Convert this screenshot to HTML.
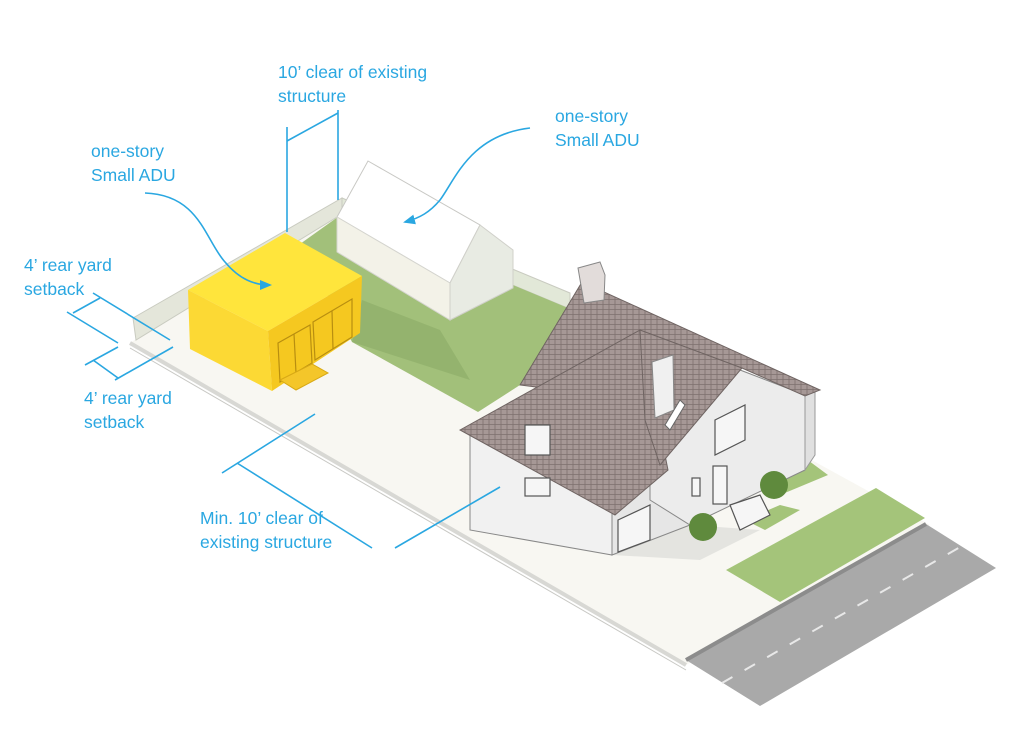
<!DOCTYPE html>
<html><head><meta charset="utf-8"><style>
html,body{margin:0;padding:0;background:#fff;}
svg{display:block}
text{font-family:"Liberation Sans",sans-serif;font-size:17.5px;fill:#2aa7e1}
</style></head><body>
<svg width="1024" height="730" viewBox="0 0 1024 730" xmlns="http://www.w3.org/2000/svg">
<defs>
<pattern id="tile" width="6" height="5" patternUnits="userSpaceOnUse">
<rect width="6" height="5" fill="#a69896"/>
<path d="M0 4.5H6M3 0V5" stroke="#7d706e" stroke-width="0.8"/>
</pattern>
<marker id="ah" markerWidth="12" markerHeight="10" refX="10" refY="5" orient="auto" markerUnits="userSpaceOnUse">
<path d="M0 0L12 5L0 10z" fill="#2aa7e1"/>
</marker>
</defs>
<!-- lot -->
<polygon points="130,343 342,202 930,525 686,665" fill="#f8f7f2"/>
<polyline points="130,343 686,665" stroke="#d8d8d4" stroke-width="4" fill="none"/>
<polyline points="130,348 686,670" stroke="#c8c8c4" stroke-width="1" fill="none"/>
<!-- fences -->
<polygon points="133,318 342,198 342,214 136,340" fill="#e4e6da" stroke="#c9cbc0" stroke-width="1"/>
<polygon points="342,198 570,293 570,309 342,214" fill="#e2e8d8" stroke="#c9cbc0" stroke-width="1"/>
<!-- lawn -->
<polygon points="300,244 342,214 568,308 520,385 478,412 352,342" fill="#a2c07a"/>
<polygon points="352,342 362,300 440,330 470,380" fill="#8fae6a" opacity="0.7"/>
<polygon points="726,570 876,488 925,518 780,602" fill="#a4c47a"/>
<polygon points="745,520 780,505 800,510 765,530" fill="#a4c47a"/>
<polygon points="758,475 805,458 828,475 780,495" fill="#a4c47a"/>
<!-- road -->
<polygon points="686,660 926,524 996,568 760,706" fill="#a9a9a9"/>
<polyline points="686,660 926,524" stroke="#8c8c8c" stroke-width="4"/>
<line x1="722" y1="683" x2="962" y2="546" stroke="#e8e8e8" stroke-width="2" stroke-dasharray="12,14"/>
<!-- yellow ADU -->
<polygon points="188,290 285,233 362,276 268,331" fill="#ffe53c"/>
<polygon points="188,290 268,331 272,391 190,349" fill="#fcd934"/>
<polygon points="268,331 362,276 360,333 272,391" fill="#f5c820"/>
<g stroke="#b88e10" stroke-width="1.2" fill="none">
<polygon points="278,343 310,325 312,363 280,382"/>
<line x1="294" y1="334" x2="296" y2="373"/>
<polygon points="313,322 352,299 352,337 315,360"/>
<line x1="332" y1="311" x2="333" y2="349"/>
</g>
<polygon points="280,380 312,364 328,373 296,390" fill="#f4c62a" stroke="#d8a915"/>
<!-- white ADU -->
<polygon points="337,217 368,161 480,225 450,283" fill="#ffffff" stroke="#c8c8c4"/>
<polygon points="337,217 450,283 450,320 337,252" fill="#f3f2e8" stroke="#d5d5cf"/>
<polygon points="450,283 480,225 513,250 513,288 450,320" fill="#e8ebe3" stroke="#d0d0ca"/>
<!-- house shadow -->
<polygon points="612,555 700,560 760,530 690,525" fill="#e4e4e0"/>
<!-- house walls -->
<polygon points="470,430 470,530 612,555 612,470" fill="#f1f1f1" stroke="#888" stroke-width="1"/>
<polygon points="612,470 612,555 690,525 690,440" fill="#e6e6e6" stroke="#888"/>
<polygon points="650,440 740,370 805,395 805,470 690,525 650,500" fill="#ececec" stroke="#888"/>
<polygon points="805,395 815,392 815,455 805,470" fill="#e0e0e0" stroke="#999"/>
<!-- roofs -->
<polygon points="520,385 582,282 820,390 805,396 742,368 640,400" fill="url(#tile)" stroke="#6f6462"/>
<polygon points="460,430 640,330 668,470 615,515" fill="url(#tile)" stroke="#6f6462"/>
<polygon points="640,330 742,368 660,465 645,420" fill="url(#tile)" stroke="#6f6462"/>
<polygon points="578,268 600,262 605,275 604,300 584,303" fill="#e2dcda" stroke="#888"/>
<polygon points="652,362 673,355 674,410 655,418" fill="#f0f0f0" stroke="#888"/>
<polygon points="665,425 680,400 685,405 670,430" fill="#fff" stroke="#666"/>
<!-- windows -->
<g stroke="#555" fill="#f6f6f6" stroke-width="1.2">
<rect x="525" y="425" width="25" height="30"/>
<rect x="525" y="478" width="25" height="18"/>
<polygon points="715,420 745,405 745,440 715,455"/>
<polygon points="618,520 650,505 650,540 618,552"/>
<rect x="692" y="478" width="8" height="18"/>
<rect x="713" y="466" width="14" height="38"/>
<polygon points="730,505 760,495 770,515 740,530"/>
</g>
<circle cx="703" cy="527" r="14" fill="#5f8a3d"/>
<circle cx="774" cy="485" r="14" fill="#5f8a3d"/>
<!-- blue dims -->
<g stroke="#2aa7e1" stroke-width="1.6" fill="none">
<line x1="287" y1="127" x2="287" y2="232"/>
<line x1="338" y1="110" x2="338" y2="200"/>
<line x1="287" y1="141" x2="338" y2="113"/>
<line x1="93" y1="293" x2="170" y2="340"/>
<line x1="67" y1="312" x2="118" y2="343"/>
<line x1="73" y1="313" x2="100" y2="298"/>
<line x1="85" y1="365" x2="118" y2="347"/>
<line x1="93" y1="360" x2="118" y2="378"/>
<line x1="115" y1="380" x2="173" y2="347"/>
<line x1="222" y1="473" x2="315" y2="414"/>
<line x1="237" y1="463" x2="372" y2="548"/>
<line x1="395" y1="548" x2="500" y2="487"/>
<path d="M145,193 C200,195 205,240 225,262 C240,280 255,285 270,285" marker-end="url(#ah)"/>
<path d="M530,128 C470,135 455,180 440,200 C430,212 420,218 405,222" marker-end="url(#ah)"/>
</g>
<text x="278" y="78">10’ clear of existing</text>
<text x="278" y="102">structure</text>
<text x="555" y="122">one-story</text>
<text x="555" y="146">Small ADU</text>
<text x="91" y="157">one-story</text>
<text x="91" y="181">Small ADU</text>
<text x="24" y="271">4’ rear yard</text>
<text x="24" y="295">setback</text>
<text x="84" y="404">4’ rear yard</text>
<text x="84" y="428">setback</text>
<text x="200" y="524">Min. 10’ clear of</text>
<text x="200" y="548">existing structure</text>
</svg>
</body></html>
